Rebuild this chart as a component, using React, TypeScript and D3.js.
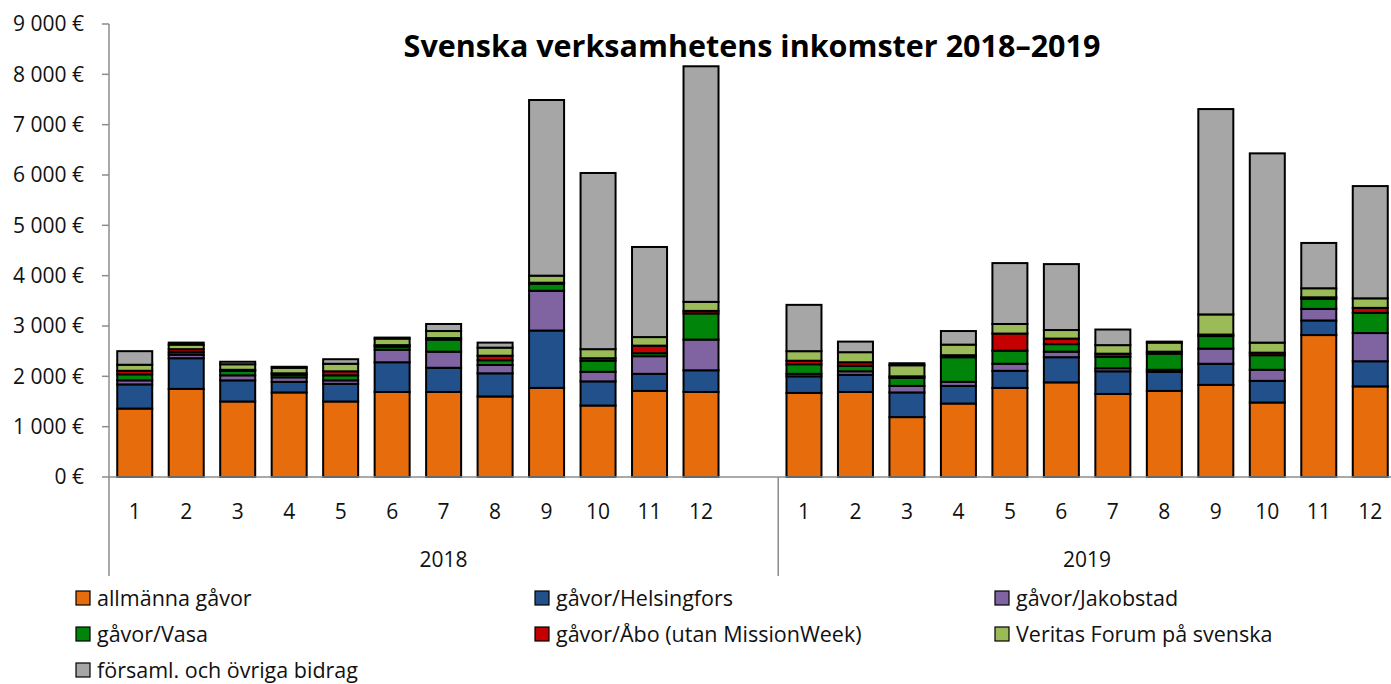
import React, { useRef, useEffect } from "react";
import * as d3 from "d3";

// monthly values, 2018 (12) followed by 2019 (12), in €
const months = ["1", "2", "3", "4", "5", "6", "7", "8", "9", "10", "11", "12"];
const years = ["2018", "2019"];

const allmanna = [1360, 1750, 1500, 1680, 1500, 1690, 1690, 1600, 1770, 1420, 1710, 1690,
  1670, 1690, 1190, 1460, 1770, 1880, 1650, 1710, 1830, 1480, 2820, 1800];
const helsingfors = [480, 610, 420, 210, 350, 590, 480, 460, 1140, 480, 340, 430,
  330, 340, 490, 350, 340, 500, 450, 380, 420, 430, 290, 500];
const jakobstad = [80, 70, 100, 90, 70, 250, 320, 165, 790, 190, 350, 610,
  50, 70, 130, 80, 140, 110, 60, 40, 300, 220, 230, 560];
const vasa = [120, 50, 90, 50, 100, 60, 240, 95, 140, 220, 60, 520,
  190, 110, 160, 490, 260, 150, 230, 320, 250, 290, 200, 400];
const abo = [70, 60, 20, 30, 80, 30, 30, 90, 20, 50, 150, 50,
  70, 70, 30, 40, 340, 110, 60, 40, 30, 50, 30, 100];
const veritas = [120, 90, 110, 110, 150, 130, 140, 160, 140, 180, 170, 180,
  190, 200, 220, 210, 190, 170, 170, 180, 400, 200, 180, 190];
const forsaml = [270, 40, 50, 20, 90, 20, 140, 100, 3490, 3500, 1790, 4680,
  920, 210, 40, 270, 1210, 1310, 310, 20, 4080, 3760, 900, 2230];

const seriesNames = [
  "allmänna gåvor",
  "gåvor/Helsingfors",
  "gåvor/Jakobstad",
  "gåvor/Vasa",
  "gåvor/Åbo (utan MissionWeek)",
  "Veritas Forum på svenska",
  "församl. och övriga bidrag",
];
const seriesValues = [allmanna, helsingfors, jakobstad, vasa, abo, veritas, forsaml];
const colors = ["#E66C0C", "#22508A", "#8064A2", "#00850A", "#C40000", "#9BBB59", "#A6A6A6"];
const yTicks = [0, 1000, 2000, 3000, 4000, 5000, 6000, 7000, 8000, 9000];

const FONT = "'Open Sans', sans-serif";

const App: React.FC = () => {
  const svgRef = useRef<SVGSVGElement>(null);

  useEffect(() => {
    if (!svgRef.current) return;
    const svg = d3.select(svgRef.current);
    svg.selectAll("*").remove();

    // slots: 12 months of 2018, one empty slot, 12 months of 2019
    const slots: string[] = [];
    years.forEach((y, yi) => {
      months.forEach((m) => slots.push(`${y}-${m}`));
      if (yi === 0) slots.push("gap");
    });

    const rows = years.flatMap((y, yi) =>
      months.map((m, mi) => {
        const row: any = { key: `${y}-${m}`, month: m };
        seriesNames.forEach((s, si) => (row[s] = seriesValues[si][yi * 12 + mi]));
        return row;
      })
    );

    const left = 109;
    const right = 1396;
    const top = 24;
    const bottom = 477;

    const x = d3.scaleBand().domain(slots).range([left, right]).paddingInner(0.32).paddingOuter(0.16);
    const y = d3.scaleLinear().domain([0, 9000]).range([bottom, top]);

    const stacked = d3.stack().keys(seriesNames)(rows);

    // y axis
    const fmt = (v: number) => `${d3.format(",")(v).replace(/,/g, " ")} €`;
    const yAxis = svg.append("g");
    yAxis.append("line")
      .attr("x1", left).attr("x2", left)
      .attr("y1", y(9000)).attr("y2", 576)
      .attr("stroke", "#8c8c8c").attr("stroke-width", 1.5);
    yAxis.selectAll("line.tick").data(yTicks).join("line")
      .attr("class", "tick")
      .attr("x1", left - 7).attr("x2", left)
      .attr("y1", (d) => y(d)).attr("y2", (d) => y(d))
      .attr("stroke", "#8c8c8c").attr("stroke-width", 1.5);
    yAxis.selectAll("text").data(yTicks).join("text")
      .attr("x", 84).attr("y", (d) => y(d))
      .attr("dy", "0.35em")
      .attr("text-anchor", "end")
      .attr("font-family", FONT).attr("font-size", 21)
      .attr("fill", "#111")
      .text((d) => fmt(d));

    // bars
    svg.append("g").selectAll("g").data(stacked).join("g")
      .attr("fill", (_, i) => colors[i])
      .selectAll("rect").data((d) => d).join("rect")
      .attr("x", (d: any) => x(d.data.key)!)
      .attr("width", x.bandwidth())
      .attr("y", (d) => y(d[1]))
      .attr("height", (d) => y(d[0]) - y(d[1]))
      .attr("stroke", "#000").attr("stroke-width", 2);

    // x axis
    const xAxis = svg.append("g");
    xAxis.append("line")
      .attr("x1", left).attr("x2", right)
      .attr("y1", bottom).attr("y2", bottom)
      .attr("stroke", "#8c8c8c").attr("stroke-width", 1.5);
    const sep = (x("gap")! + x("2019-1")! + x.bandwidth()) / 2;
    xAxis.append("line")
      .attr("x1", sep).attr("x2", sep)
      .attr("y1", bottom).attr("y2", 576)
      .attr("stroke", "#8c8c8c").attr("stroke-width", 1.5);
    xAxis.selectAll("text.m").data(rows).join("text")
      .attr("class", "m")
      .attr("x", (d) => x(d.key)! + x.bandwidth() / 2)
      .attr("y", 512).attr("dy", "0.35em")
      .attr("text-anchor", "middle")
      .attr("font-family", FONT).attr("font-size", 21)
      .attr("fill", "#111")
      .text((d) => d.month);
    const groupEdges = [[left, sep], [sep, right]];
    xAxis.selectAll("text.y").data(years).join("text")
      .attr("class", "y")
      .attr("x", (_, i) => (groupEdges[i][0] + groupEdges[i][1]) / 2)
      .attr("y", 560).attr("dy", "0.35em")
      .attr("text-anchor", "middle")
      .attr("font-family", FONT).attr("font-size", 21)
      .attr("fill", "#111")
      .text((d) => d);

    // title
    svg.append("text")
      .attr("x", 752).attr("y", 57)
      .attr("text-anchor", "middle")
      .attr("font-family", FONT).attr("font-size", 30.5).attr("font-weight", 700)
      .attr("fill", "#000")
      .text("Svenska verksamhetens inkomster 2018–2019");

    // legend
    const colX = [76, 535, 995];
    const rowY = [598, 634, 670];
    const legend = svg.append("g").selectAll("g").data(seriesNames).join("g")
      .attr("transform", (_, i) => `translate(${colX[i % 3]},${rowY[Math.floor(i / 3)]})`);
    legend.append("rect")
      .attr("x", 0).attr("y", -7).attr("width", 14).attr("height", 14)
      .attr("fill", (_, i) => colors[i])
      .attr("stroke", "#000").attr("stroke-width", 1.2);
    legend.append("text")
      .attr("x", 21).attr("y", 0).attr("dy", "0.35em")
      .attr("font-family", FONT).attr("font-size", 21.5)
      .attr("fill", "#111")
      .text((d) => d);
  }, []);

  return (
    <div>
      <svg
        ref={svgRef}
        width={1391}
        height={684}
        style={{ position: "absolute", left: 0, top: 0, background: "#fff" }}
      />
    </div>
  );
};

export default App;
